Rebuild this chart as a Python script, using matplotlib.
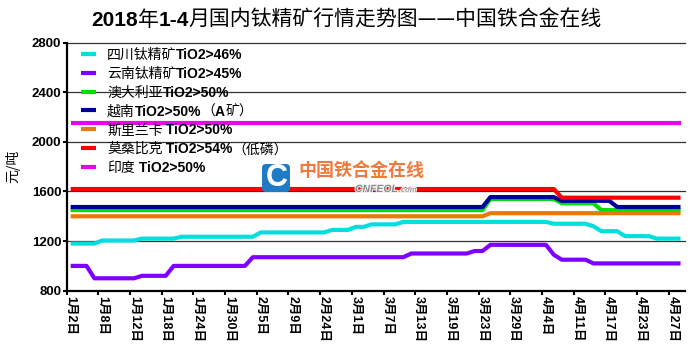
import matplotlib
matplotlib.use('Agg')
import matplotlib.pyplot as plt
import matplotlib.patheffects as pe
from matplotlib.transforms import IdentityTransform
from matplotlib.lines import Line2D
from matplotlib.patches import FancyBboxPatch

CJK = 'Noto Sans CJK SC'
LAT = 'Liberation Sans'

dates = ['1月2日', '1月8日', '1月12日', '1月18日', '1月24日', '1月30日', '2月5日',
         '2月9日', '2月24日', '3月1日', '3月7日', '3月13日', '3月19日', '3月23日',
         '3月29日', '4月4日', '4月11日', '4月17日', '4月23日', '4月27日']
n_days = 78          # trading days on the category axis
label_every = 4

# price breakpoints (day index, yuan/ton)
sichuan_x = [0, 3, 4, 8, 9, 13, 14, 23, 24, 32, 33, 35, 36, 37, 38, 41, 42, 60, 61, 65, 66, 67, 69, 70, 73, 74, 77]
sichuan_y = [1180, 1180, 1205, 1205, 1220, 1220, 1235, 1235, 1270, 1270, 1290, 1290, 1315, 1315,
             1335, 1335, 1355, 1355, 1340, 1340, 1320, 1280, 1280, 1240, 1240, 1220, 1220]
yunnan_x = [0, 2, 3, 8, 9, 12, 13, 22, 23, 42, 43, 50, 51, 52, 53, 60, 61, 62, 65, 66, 77]
yunnan_y = [1000, 1000, 900, 900, 920, 920, 1000, 1000, 1070, 1070, 1100, 1100, 1120, 1120,
            1170, 1170, 1090, 1050, 1050, 1020, 1020]
aus_x = [0, 52, 53, 61, 62, 66, 67, 77]
aus_y = [1450, 1450, 1540, 1540, 1505, 1505, 1450, 1450]
viet_x = [0, 52, 53, 61, 62, 68, 69, 77]
viet_y = [1475, 1475, 1555, 1555, 1525, 1525, 1475, 1475]
sri_x = [0, 52, 53, 77]
sri_y = [1400, 1400, 1425, 1425]
moz_x = [0, 61, 62, 77]
moz_y = [1620, 1620, 1550, 1550]
india_x = [0, 77]
india_y = [2150, 2150]

series = [
    (sichuan_x, sichuan_y, '#00dede', [('四川钛精矿', False), ('TiO2>46%', True)]),
    (yunnan_x, yunnan_y, '#8000ff', [('云南钛精矿', False), ('TiO2>45%', True)]),
    (aus_x, aus_y, '#00e000', [('澳大利亚', False), ('TiO2>50%', True)]),
    (viet_x, viet_y, '#000099', [('越南', False), ('TiO2>50%', True), ('（', False), ('A', True), ('矿）', False)]),
    (sri_x, sri_y, '#e87810', [('斯里兰卡', False), (' TiO2>50%', True)]),
    (moz_x, moz_y, '#ff0000', [('莫桑比克', False), (' TiO2>54%', True), ('（低磷）', False)]),
    (india_x, india_y, '#ee00ee', [('印度', False), (' TiO2>50%', True)]),
]

W, H = 694, 356
fig = plt.figure(figsize=(W / 100, H / 100), dpi=100)
ax = fig.add_axes([66.7 / W, 1 - 290.7 / H, 617.8 / W, 248 / H])
renderer = fig.canvas.get_renderer()


def chain(x, y, parts, size, color='black'):
    # draw text pieces one after another on one baseline (display pixels, y from top)
    for s, bold in parts:
        fam = [LAT, CJK] if bold else [CJK, LAT]
        t = fig.text(x, H - y, s, transform=IdentityTransform(), fontsize=size,
                     fontweight='bold' if bold else 'normal', family=fam,
                     color=color, ha='left', va='baseline')
        x = t.get_window_extent(renderer).x1
    return x


for xs, ys, c, parts in series:
    ax.plot(xs, ys, color=c, lw=3, solid_capstyle='butt', zorder=3)

ax.set_xlim(-0.5, n_days - 0.5)
ax.set_ylim(800, 2800)
ax.set_yticks([800, 1200, 1600, 2000, 2400, 2800])
ax.set_xticks([i - 0.5 for i in range(0, n_days - 1, label_every)])
ax.set_xticks([i for i in range(0, n_days - 1, label_every)], minor=True)
ax.set_xticklabels([])
ax.set_xticklabels(dates, minor=True, rotation=270, fontsize=9, fontweight='bold', family=[LAT, CJK])
ax.tick_params(axis='x', which='major', direction='out', length=3, width=1.5)
ax.tick_params(axis='x', which='minor', length=0, pad=4)
ax.tick_params(axis='y', direction='out', length=3, width=1.5, pad=1)
for lab in ax.get_yticklabels():
    lab.set_fontweight('bold')
    lab.set_family(LAT)
    lab.set_fontsize(9.5)

for v in [1200, 1600, 2000, 2400, 2800]:
    ax.axhline(v, color='#333333', lw=0.9, zorder=1, clip_on=False)

for s in ['top', 'right']:
    ax.spines[s].set_visible(False)
for s in ['left', 'bottom']:
    ax.spines[s].set_linewidth(1.6)

ax.set_ylabel('元/吨', family=[CJK], fontsize=10)
ax.yaxis.set_label_coords(-0.0756, 0.5)

# legend drawn by hand: mixed regular Chinese and bold Latin text
for i, (xs, ys, c, parts) in enumerate(series):
    yc = 54 + 18.8 * i
    fig.add_artist(Line2D([81, 96], [H - yc, H - yc], color=c, lw=3,
                          solid_capstyle='butt', transform=IdentityTransform()))
    chain(107, yc + 5.2, parts, 10)

# title
chain(91, 25.5, [('2018', True), ('年', False), ('1-4', True),
                 ('月国内钛精矿行情走势图——中国铁合金在线', False)], 15)

# watermark
fig.add_artist(FancyBboxPatch((262, H - 192), 28, 28, boxstyle='round,pad=0,rounding_size=4',
                              fc='#1f7cc4', ec='none', transform=IdentityTransform(), zorder=5))
fig.text(276.5, H - 178, 'C', transform=IdentityTransform(), fontsize=22, fontweight='bold',
         family=LAT, color='white', ha='center', va='center', zorder=6)
fig.text(298, H - 170.5, '中国铁合金在线', transform=IdentityTransform(), fontsize=13,
         fontweight='bold', family=CJK, color='#f07a3c', ha='left', va='center', zorder=6)
t = fig.text(355, H - 192, 'CNFEOL', transform=IdentityTransform(), fontsize=7.5, fontweight='bold',
             style='italic', family=LAT, color='#8a8a8a', ha='left', va='baseline', zorder=6,
             path_effects=[pe.withStroke(linewidth=1.5, foreground='#f4f4f4')])
x_end = t.get_window_extent(renderer).x1
fig.text(x_end + 1, H - 192, '.com', transform=IdentityTransform(), fontsize=5.5, fontweight='bold',
         style='italic', family=LAT, color='#a0a0a0', ha='left', va='baseline', zorder=6,
         path_effects=[pe.withStroke(linewidth=1.2, foreground='#f4f4f4')])

fig.savefig('out.png', dpi=100)
